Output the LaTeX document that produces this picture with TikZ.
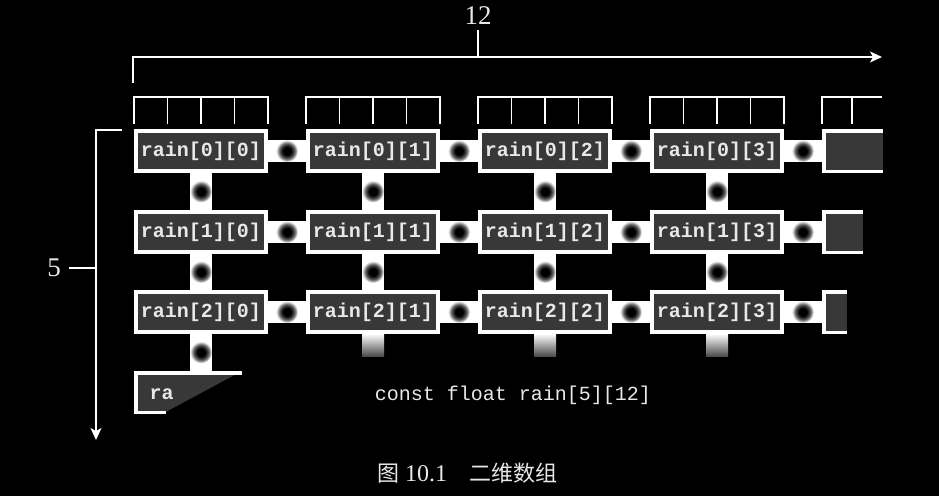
\documentclass[tikz,border=0pt]{standalone}
\usepackage{fontspec}
\setmainfont{Liberation Serif}
\newfontfamily\codefont{Liberation Mono}
\newfontfamily\cjk{Noto Sans CJK SC}
\usetikzlibrary{arrows.meta,calc}
\definecolor{boxgray}{RGB}{56,56,56}
\definecolor{codewhite}{RGB}{232,232,232}
\pgfdeclareradialshading{dotshade}{\pgfpoint{0bp}{0bp}}{color(0bp)=(black); color(9bp)=(black); color(17bp)=(gray!70!black); color(25bp)=(white); color(50bp)=(white)}
\begin{document}
\begin{tikzpicture}[x=1pt,y=-1pt,
  cell/.style={draw=white, line width=3.5pt, fill=boxgray, minimum width=130pt, minimum height=40pt,
    inner sep=0pt, text=codewhite, font=\codefont\bfseries\fontsize{20}{24}\selectfont},
  bar/.style={draw=white, line width=22pt},
  joint/.style={circle, minimum size=22pt, inner sep=0pt, shading=dotshade},
  thin/.style={draw=white, line width=1.3pt},
  tip/.style={-{Stealth[length=12pt,width=11pt,inset=3pt]}},
  lbl/.style={text=codewhite, font=\fontsize{27}{30}\selectfont}
]
\fill[black] (0,0) rectangle (939,496);
\useasboundingbox (0,0) rectangle (939,496);

% top brackets over the columns
\foreach \c in {0,1,2,3}{
  \pgfmathsetmacro{\xo}{134+172*\c}
  \draw[thin] (\xo,124) -- (\xo,97) -- (\xo+134,97) -- (\xo+134,124);
  \foreach \k in {1,2,3}{ \draw[thin] (\xo+33.5*\k,97) -- (\xo+33.5*\k,124); }
}
\draw[thin] (822,124) -- (822,97) -- (882,97);
\draw[thin] (852,97) -- (852,124);

% dimension arrows
\coordinate (topstart) at (133,83);
\coordinate (topend) at (882,57);
\draw[thin,tip] (topstart) |- (topend);
\node[lbl] (n12) at (478,16) {12};
\coordinate (t12a) at (478,30);
\coordinate (t12b) at (478,57);
\draw[thin] (t12a) -- (t12b);

\coordinate (leftstart) at (122,130);
\coordinate (leftend) at (96,440);
\draw[thin,tip] (leftstart) -| (leftend);
\node[lbl] (n5) at (54,268) {5};
\coordinate (t5a) at (69,268);
\coordinate (t5b) at (96,268);
\draw[thin] (t5a) -- (t5b);

% cells
\foreach \r/\y in {0/151,1/232,2/312}{
  \foreach \c in {0,1,2,3}{
    \node[cell] (b\r\c) at (201+172*\c,\y) {rain[\r][\c]};
  }
}

% partial cells of the fifth column
\foreach \r/\y/\xe in {0/151/883,1/232/863,2/312/847}{
  \fill[boxgray] (822,\y-22) rectangle (\xe,\y+22);
  \draw[white,line width=3.5pt] (\xe,\y-20.25) -- (823.75,\y-20.25) -- (823.75,\y+20.25) -- (\xe,\y+20.25);
  \coordinate (p\r) at (822,\y);
}

% partial cell of the last row
\fill[boxgray] (134,371) -- (242,371) -- (162,414) -- (134,414) -- cycle;
\draw[white,line width=3.5pt] (242,372.75) -- (135.75,372.75) -- (135.75,412.25) -- (166,412.25);
\node[anchor=west, text=codewhite, font=\codefont\bfseries\fontsize{20}{24}\selectfont] (ra) at (146,394) {ra};
\coordinate (rabox) at (201,371);

% horizontal joints
\foreach \r in {0,1,2}{
  \foreach \c/\n in {0/1,1/2,2/3}{
    \draw[bar] (b\r\c.east) -- (b\r\n.west);
    \path (b\r\c.east) -- (b\r\n.west) node[midway,joint] {};
  }
  \draw[bar] (b\r3.east) -- (p\r);
  \path (b\r3.east) -- (p\r) node[midway,joint] {};
}

% vertical joints
\foreach \c in {0,1,2,3}{
  \foreach \r/\n in {0/1,1/2}{
    \draw[bar] (b\r\c.south) -- (b\n\c.north);
    \path (b\r\c.south) -- (b\n\c.north) node[midway,joint] {};
  }
}
\draw[bar] (b20.south) -- (rabox);
\path (b20.south) -- (rabox) node[midway,joint] {};

% stubs below the third row
\foreach \c in {1,2,3}{
  \coordinate (s\c) at (201+172*\c,356);
  \shade[top color=white, bottom color=gray!60!black] ($(b2\c.south)+(-11,0)$) rectangle ($(s\c)+(11,0)$);
}

% declaration and caption
\node[text=codewhite, font=\codefont\fontsize{20}{24}\selectfont] (decl) at (513,395) {const float rain[5][12]};
\node[text=codewhite, font=\fontsize{24}{27}\selectfont] (cap) at (467,473) {{\cjk\fontsize{22}{25}\selectfont 图}\hspace{6pt}10.1\hspace{22pt}{\cjk\fontsize{22}{25}\selectfont 二维数组}};
\end{tikzpicture}
\end{document}
